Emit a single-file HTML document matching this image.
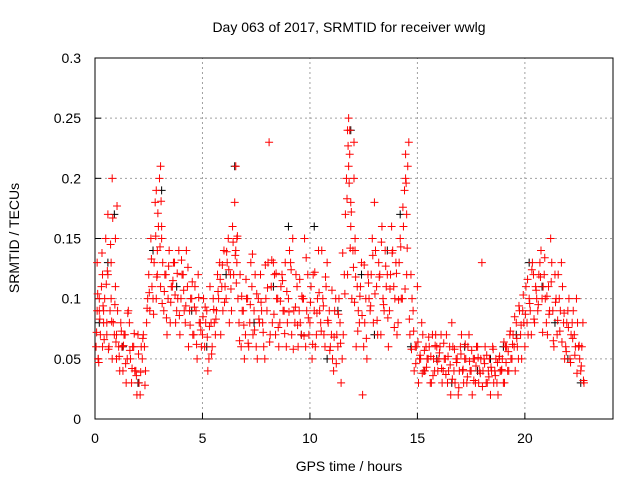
<!DOCTYPE html>
<html><head><meta charset="utf-8"><style>
body{margin:0;background:#fff;}
svg text{font-family:"Liberation Sans",sans-serif;font-size:14px;fill:#000;}
</style></head><body>
<svg id="chart" width="640" height="480" xmlns="http://www.w3.org/2000/svg">
<g id="grid"></g>
<g id="axes"></g>
<g id="black"></g>
<g id="red"></g>
<text x="349" y="32" text-anchor="middle">Day 063 of 2017, SRMTID for receiver wwlg</text>
<text x="349" y="471" text-anchor="middle">GPS time / hours</text>
<text transform="translate(19,238) rotate(-90)" text-anchor="middle">SRMTID / TECUs</text>
</svg>
<script>
const xTicks=[0,5,10,15,20];
const yTicks=[0,0.05,0.1,0.15,0.2,0.25,0.3];
const yTickLabels=["0","0.05","0.1","0.15","0.2","0.25","0.3"];
const redTimes=[0.05,0.1,0.15,0.2,0.3,0.35,0.4,0.5,0.55,0.6,0.7,0.75,0.8,0.9,0.95,1.0,1.1,1.2,1.3,1.4,1.5,1.6,1.7,1.8,1.9,2.0,2.1,2.2,2.3,2.4,2.5,2.6,2.7,2.8,2.85,2.9,3.0,3.05,3.1,3.2,3.3,3.4,3.5,3.6,3.7,3.8,3.9,4.0,4.1,4.2,4.3,4.4,4.5,4.6,4.7,4.8,4.9,5.0,5.1,5.2,5.3,5.4,5.5,5.6,5.7,5.8,5.9,6.0,6.1,6.2,6.3,6.4,6.5,6.55,6.6,6.7,6.8,6.9,7.0,7.1,7.2,7.3,7.4,7.5,7.6,7.7,7.8,7.9,8.0,8.1,8.2,8.3,8.4,8.5,8.6,8.7,8.8,8.9,9.0,9.1,9.2,9.3,9.4,9.5,9.6,9.7,9.8,9.9,10.0,10.1,10.2,10.3,10.4,10.5,10.6,10.7,10.8,10.9,11.0,11.1,11.2,11.3,11.4,11.5,11.6,11.7,11.75,11.8,11.85,11.9,12.0,12.05,12.1,12.2,12.3,12.4,12.5,12.6,12.7,12.8,12.9,13.0,13.1,13.2,13.3,13.4,13.5,13.6,13.7,13.8,13.9,14.0,14.1,14.2,14.3,14.4,14.45,14.5,14.6,14.7,14.8,14.9,15.0,15.1,15.2,15.3,15.4,15.5,15.6,15.7,15.8,15.9,16.0,16.1,16.2,16.3,16.4,16.5,16.6,16.7,16.8,16.9,17.0,17.1,17.2,17.3,17.4,17.5,17.6,17.7,17.8,17.9,18.0,18.1,18.2,18.3,18.4,18.5,18.6,18.7,18.8,18.9,19.0,19.1,19.2,19.3,19.4,19.5,19.6,19.7,19.8,19.9,20.0,20.1,20.2,20.3,20.4,20.5,20.6,20.7,20.8,20.9,21.0,21.1,21.2,21.3,21.4,21.5,21.6,21.7,21.8,21.9,22.0,22.1,22.2,22.3,22.4,22.5,22.6,22.7];
const redValsA=[0.06,0.13,0.05,0.09,0.11,0.12,0.08,0.15,0.07,0.17,0.09,0.13,0.2,0.07,0.15,0.05,0.06,0.08,0.04,0.07,0.05,0.08,0.03,0.06,0.04,0.07,0.02,0.05,0.06,0.08,0.12,0.15,0.1,0.18,0.19,0.14,0.2,0.21,0.16,0.09,0.12,0.1,0.08,0.11,0.13,0.09,0.14,0.1,0.12,0.08,0.11,0.09,0.1,0.07,0.09,0.12,0.08,0.07,0.06,0.09,0.05,0.08,0.1,0.07,0.12,0.13,0.11,0.14,0.1,0.15,0.12,0.16,0.18,0.21,0.13,0.08,0.06,0.09,0.07,0.1,0.08,0.11,0.09,0.06,0.1,0.12,0.08,0.05,0.09,0.23,0.11,0.13,0.07,0.1,0.08,0.12,0.09,0.06,0.1,0.13,0.15,0.08,0.11,0.09,0.07,0.1,0.06,0.12,0.08,0.05,0.09,0.07,0.14,0.08,0.1,0.06,0.13,0.09,0.07,0.04,0.1,0.06,0.08,0.05,0.12,0.2,0.24,0.25,0.22,0.18,0.14,0.23,0.15,0.11,0.08,0.13,0.06,0.1,0.12,0.09,0.15,0.18,0.11,0.13,0.07,0.1,0.14,0.12,0.09,0.16,0.11,0.13,0.08,0.15,0.1,0.19,0.22,0.17,0.23,0.12,0.09,0.06,0.11,0.05,0.08,0.04,0.06,0.05,0.03,0.07,0.04,0.06,0.05,0.07,0.04,0.05,0.03,0.06,0.08,0.04,0.05,0.02,0.06,0.04,0.05,0.03,0.07,0.04,0.05,0.03,0.06,0.04,0.13,0.05,0.03,0.04,0.02,0.06,0.04,0.03,0.05,0.04,0.03,0.06,0.04,0.07,0.05,0.06,0.08,0.05,0.07,0.09,0.06,0.08,0.1,0.07,0.12,0.11,0.09,0.13,0.1,0.12,0.08,0.11,0.15,0.09,0.12,0.07,0.1,0.13,0.08,0.06,0.09,0.05,0.08,0.07,0.1,0.06,0.04,0.08,0.05,0.03,0.07,0.04,0.06,0.02,0.05,0.03,0.04];
const redValsB=[0.09,0.05,0.1,0.07,0.06,0.09,0.1,0.08,0.12,0.06,0.1,0.05,0.08,0.11,0.07,0.09,0.04,0.06,0.07,0.03,0.09,0.05,0.06,0.04,0.02,0.03,0.06,0.07,0.04,0.1,0.09,0.11,0.13,0.1,0.12,0.16,0.11,0.15,0.13,0.12,0.07,0.14,0.11,0.13,0.08,0.1,0.07,0.12,0.09,0.14,0.06,0.1,0.07,0.11,0.05,0.08,0.06,0.1,0.08,0.04,0.11,0.06,0.08,0.09,0.1,0.07,0.09,0.11,0.13,0.08,0.09,0.12,0.14,0.15,0.1,0.12,0.09,0.05,0.1,0.06,0.13,0.07,0.12,0.05,0.08,0.09,0.06,0.1,0.13,0.07,0.08,0.12,0.1,0.06,0.11,0.09,0.13,0.08,0.14,0.07,0.09,0.12,0.06,0.08,0.1,0.15,0.09,0.07,0.11,0.12,0.06,0.1,0.09,0.14,0.07,0.11,0.08,0.06,0.05,0.09,0.07,0.1,0.03,0.07,0.17,0.12,0.21,0.24,0.16,0.1,0.2,0.14,0.06,0.09,0.11,0.02,0.08,0.05,0.1,0.12,0.08,0.14,0.07,0.12,0.16,0.09,0.11,0.06,0.12,0.14,0.1,0.07,0.13,0.1,0.16,0.2,0.12,0.21,0.07,0.1,0.04,0.06,0.03,0.05,0.07,0.04,0.05,0.06,0.03,0.05,0.07,0.04,0.06,0.03,0.05,0.07,0.04,0.02,0.06,0.03,0.05,0.04,0.07,0.03,0.05,0.06,0.04,0.02,0.05,0.06,0.03,0.05,0.04,0.06,0.03,0.05,0.04,0.03,0.05,0.02,0.04,0.05,0.03,0.06,0.04,0.05,0.07,0.04,0.06,0.09,0.05,0.08,0.11,0.07,0.09,0.13,0.08,0.1,0.12,0.14,0.11,0.1,0.07,0.09,0.13,0.06,0.1,0.12,0.09,0.11,0.05,0.08,0.1,0.07,0.09,0.06,0.08,0.05,0.06,0.03,0.09,0.07,0.05,0.06,0.04,0.03,0.05,0.04,0.02];
const redValsC=[0.072,0.104,0.047,0.083,0.138,0.094,0.066,0.112,0.123,0.058,0.145,0.081,0.167,0.095,0.064,0.177,0.052,0.073,0.061,0.046,0.088,0.057,0.042,0.071,0.036,0.054,0.039,0.067,0.028,0.092,0.105,0.133,0.087,0.152,0.118,0.171,0.143,0.181,0.096,0.106,0.084,0.127,0.097,0.115,0.103,0.121,0.086,0.132,0.107,0.094,0.126,0.078,0.114,0.093,0.062,0.101,0.074,0.085,0.093,0.068,0.077,0.054,0.091,0.083,0.106,0.116,0.128,0.097,0.139,0.124,0.108,0.147,0.136,0.113,0.152,0.065,0.102,0.078,0.116,0.063,0.095,0.137,0.074,0.104,0.083,0.097,0.072,0.128,0.109,0.064,0.132,0.087,0.121,0.076,0.098,0.115,0.071,0.106,0.089,0.124,0.058,0.093,0.078,0.116,0.102,0.069,0.134,0.084,0.097,0.062,0.122,0.088,0.105,0.073,0.094,0.118,0.082,0.057,0.107,0.068,0.046,0.087,0.063,0.138,0.104,0.183,0.227,0.196,0.142,0.172,0.126,0.097,0.118,0.073,0.102,0.086,0.128,0.067,0.113,0.094,0.136,0.104,0.082,0.118,0.147,0.095,0.127,0.084,0.108,0.138,0.076,0.121,0.099,0.143,0.176,0.108,0.196,0.142,0.083,0.058,0.073,0.046,0.064,0.053,0.038,0.057,0.043,0.068,0.052,0.036,0.061,0.048,0.055,0.042,0.063,0.037,0.052,0.045,0.033,0.058,0.047,0.026,0.054,0.041,0.062,0.035,0.048,0.057,0.032,0.044,0.051,0.038,0.027,0.046,0.053,0.035,0.043,0.058,0.036,0.047,0.052,0.041,0.064,0.047,0.056,0.073,0.062,0.085,0.067,0.094,0.078,0.103,0.087,0.116,0.096,0.124,0.083,0.107,0.095,0.118,0.072,0.134,0.102,0.087,0.114,0.065,0.097,0.082,0.073,0.064,0.088,0.056,0.076,0.047,0.067,0.053,0.038,0.061,0.044,0.032,0.048,0.036,0.027];
const blackTimes=[0.2,0.6,0.9,1.3,2.0,2.7,3.1,3.8,4.5,5.2,6.1,6.5,7.4,8.3,9.0,9.6,10.2,10.8,11.3,11.9,12.4,13.0,13.6,14.2,14.7,15.3,15.9,16.6,17.2,17.8,18.4,19.0,19.6,20.2,20.8,21.4,22.0,22.6];
const blackVals=[0.08,0.13,0.17,0.06,0.03,0.14,0.19,0.11,0.09,0.06,0.12,0.21,0.08,0.11,0.16,0.07,0.16,0.05,0.09,0.24,0.12,0.07,0.14,0.17,0.06,0.04,0.05,0.03,0.06,0.04,0.05,0.06,0.07,0.13,0.11,0.08,0.05,0.03];
const NS="http://www.w3.org/2000/svg";
const X0=95,X1=613,Y0=419,Y1=58,XMAX=24.1,YMAX=0.3;
function xs(v){return X0+(X1-X0)*v/XMAX;}
function ys(v){return Y0-(Y0-Y1)*v/YMAX;}
function mk(tag,attrs,parent){const e=document.createElementNS(NS,tag);for(const k in attrs)e.setAttribute(k,attrs[k]);parent.appendChild(e);return e;}
const grid=document.getElementById('grid'),axes=document.getElementById('axes');
xTicks.forEach(t=>{
 const g=mk('line',{x1:xs(t),x2:xs(t),y1:Y0,y2:Y1,stroke:'#a0a0a0','stroke-dasharray':'2,3','stroke-width':1},grid);
 
 
 const tk=mk('line',{x1:xs(t),x2:xs(t),y1:Y0,y2:Y0-6,stroke:'#000'},axes);
 
 
 const tx=mk('text',{x:xs(t),y:Y0+24,'text-anchor':'middle'},axes);tx.textContent=String(t);
 
 
});
yTicks.forEach((t,i)=>{
 const g=mk('line',{x1:X0,x2:X1,y1:ys(t),y2:ys(t),stroke:'#a0a0a0','stroke-dasharray':'2,3','stroke-width':1},grid);
 
 
 const tk=mk('line',{x1:X0,x2:X0+6,y1:ys(t),y2:ys(t),stroke:'#000'},axes);
 
 
 const tx=mk('text',{x:X0-14,y:ys(t)+5,'text-anchor':'end'},axes);tx.textContent=yTickLabels[i];
 
 
});
const frame=mk('rect',{x:X0,y:Y1,width:X1-X0,height:Y0-Y1,fill:'none',stroke:'#000','stroke-width':1},axes);


function plus(parent,t,v,color){
 if(v===undefined||t===undefined)return;
 const x=xs(t),y=ys(v);
 const p=mk('path',{d:`M${x-4} ${y}H${x+4}M${x} ${y-4}V${y+4}`,stroke:color,'stroke-width':1,fill:'none'},parent);
 
 
}
const bl=document.getElementById('black'),rd=document.getElementById('red');
blackTimes.forEach((t,i)=>plus(bl,t,blackVals[i],'#000'));
redTimes.forEach((t,i)=>{
 plus(rd,t,redValsA[i],'#ff0000');
 plus(rd,t+0.05,redValsB[i],'#ff0000');
 plus(rd,t+0.025,redValsC[i],'#ff0000');
});
</script>
</body></html>
